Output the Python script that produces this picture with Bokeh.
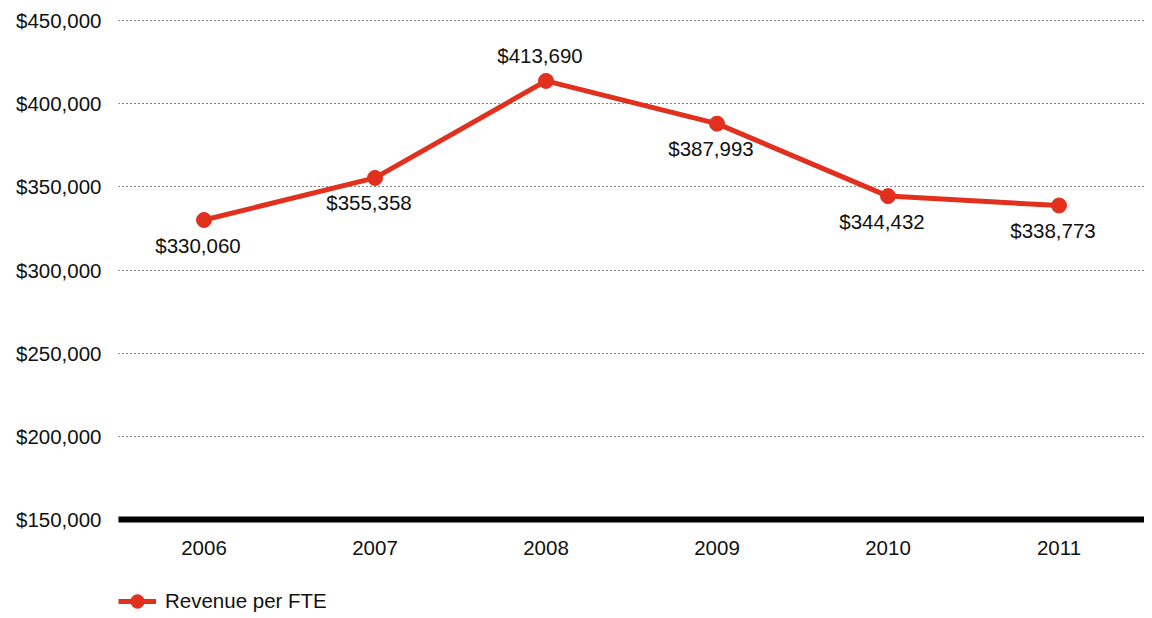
from bokeh.plotting import figure
from bokeh.models import (ColumnDataSource, NumeralTickFormatter, FixedTicker, Legend,
                          LegendItem)
from bokeh.core.properties import value
from bokeh.embed import file_html
from bokeh.resources import INLINE

years = ["2006", "2007", "2008", "2009", "2010", "2011"]
revenue_per_fte = [330060, 355358, 413690, 387993, 344432, 338773]
y_ticks = [150000, 200000, 250000, 300000, 350000, 400000, 450000]
series_name = "Revenue per FTE"

FONT = "Liberation Sans"
FS = "20.5px"
RED = "#E2301F"
INK = "#111111"

# layout (pixels)
W, H = 1144, 618
TOP_TICK_PX = 20       # page y of the top tick
PAD_PX = 2             # room above the top gridline
LEFT = 118
AXIS_PX = 499          # pixels between the top and bottom tick
per_px = (y_ticks[-1] - y_ticks[0]) / AXIS_PX
TOP = TOP_TICK_PX - PAD_PX
y_top = y_ticks[-1] + PAD_PX * per_px
y_bottom = y_top - (H - TOP) * per_px

labels = ["${:,}".format(v) for v in revenue_per_fte]
above = []
for i, v in enumerate(revenue_per_fte):
    left = revenue_per_fte[i - 1] if i > 0 else float("-inf")
    right = revenue_per_fte[i + 1] if i < len(revenue_per_fte) - 1 else float("-inf")
    above.append(v > left and v > right)

src = ColumnDataSource(dict(x=years, y=revenue_per_fte, label=labels))
src_up = ColumnDataSource(dict(
    x=[x for x, a in zip(years, above) if a],
    y=[y for y, a in zip(revenue_per_fte, above) if a],
    label=[l for l, a in zip(labels, above) if a]))
src_dn = ColumnDataSource(dict(
    x=[x for x, a in zip(years, above) if not a],
    y=[y for y, a in zip(revenue_per_fte, above) if not a],
    label=[l for l, a in zip(labels, above) if not a]))

p = figure(x_range=years, y_range=(y_bottom, y_top),
           width=W, height=H, output_backend="svg", toolbar_location=None,
           min_border_left=LEFT, min_border_right=0, min_border_top=TOP, min_border_bottom=0)
p.outline_line_color = None
p.background_fill_color = "white"
p.border_fill_color = "white"

p.xgrid.grid_line_color = None
p.ygrid.grid_line_color = "#000000"
p.ygrid.grid_line_dash = "1 3"
p.ygrid.grid_line_width = 1

ln = p.line("x", "y", source=src, line_color=RED, line_width=5)
sc = p.scatter("x", "y", source=src, size=15, fill_color=RED, line_color=RED)

p.text("x", "y", text="label", source=src_up, x_offset=-6, y_offset=-25,
       text_align="center", text_baseline="middle",
       text_font=value(FONT), text_font_size=FS, text_color=INK)
p.text("x", "y", text="label", source=src_dn, x_offset=-6, y_offset=25,
       text_align="center", text_baseline="middle",
       text_font=value(FONT), text_font_size=FS, text_color=INK)

p.yaxis.ticker = FixedTicker(ticks=y_ticks)
p.yaxis.formatter = NumeralTickFormatter(format="$0,0")
p.yaxis.axis_line_color = None
p.yaxis.major_tick_line_color = None
p.yaxis.minor_tick_line_color = None
p.yaxis.major_tick_out = 0
p.yaxis.minor_tick_out = 0
p.yaxis.major_label_standoff = 17
p.yaxis.major_label_text_font = FONT
p.yaxis.major_label_text_font_size = FS
p.yaxis.major_label_text_color = INK

p.xaxis.fixed_location = y_ticks[0]
p.xaxis.axis_line_color = "black"
p.xaxis.axis_line_width = 6
p.xaxis.axis_line_cap = "round"
p.xaxis.major_tick_line_color = None
p.xaxis.minor_tick_line_color = None
p.xaxis.major_tick_out = 0
p.xaxis.minor_tick_out = 0
p.xaxis.major_label_standoff = 21
p.xaxis.major_label_text_font = FONT
p.xaxis.major_label_text_font_size = FS
p.xaxis.major_label_text_color = INK

legend = Legend(items=[LegendItem(label=series_name, renderers=[ln, sc])],
                location=(0, 0), orientation="horizontal",
                border_line_color=None, background_fill_alpha=0,
                padding=0, margin=0, spacing=0,
                glyph_width=38, glyph_height=34, label_standoff=9,
                label_text_font=FONT, label_text_font_size=FS, label_text_color=INK)
p.add_layout(legend, "center")

open("out.html", "w").write(file_html(p, INLINE))
